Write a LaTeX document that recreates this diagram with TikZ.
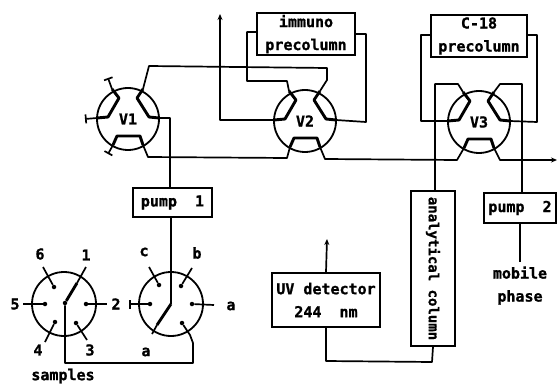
\documentclass[tikz,border=0pt]{standalone}
\usepackage{fontspec}
\setmainfont{DejaVu Sans Mono}[BoldFont={DejaVu Sans Mono Bold},BoldFeatures={FakeBold=1.2}]
\usetikzlibrary{arrows.meta}
\tikzset{
  wire/.style={line width=1.7pt,line join=round},
  thick wire/.style={line width=2.9pt,line join=round},
  boxed/.style={draw,line width=1.8pt,align=center,inner sep=0pt,font=\fontsize{15}{23}\selectfont\bfseries},
  lab/.style={inner sep=0pt,font=\fontsize{15}{23}\selectfont\bfseries,align=center},
  up tip/.style={-{Stealth[length=6pt,width=5pt]}},
  t end/.style={-{Bar[width=9pt,line width=1.7pt]}},
  dot/.style={circle,fill=black,inner sep=0pt,minimum size=4.5pt},
  ring/.style={circle,draw,line width=1.8pt,inner sep=0pt},
  valve/.pic={
    \node[ring,minimum size=62pt,lab] (-c) at (0,0) {#1};
    \coordinate (-tl) at (-16,-30);
    \coordinate (-tr) at (15,-30);
    \coordinate (-l) at (-31,-1);
    \coordinate (-r) at (31,-1);
    \coordinate (-bl) at (-15,26);
    \coordinate (-br) at (15,26);
    \draw[thick wire] (-tl) -- (-9,-21) -- (-20,-2) -- (-l);
    \draw[thick wire] (-tr) -- (9,-21) -- (21,-2) -- (-r);
    \draw[thick wire] (-bl) -- (-11,17) -- (12,17) -- (-br);
  },
  selector/.pic={
    \node[ring,minimum size=64pt] (-c) at (0,0) {};
  },
}
\begin{document}
\begin{tikzpicture}[x=1pt,y=-1pt]
\useasboundingbox (0,0) rectangle (557,385);
% valves
\pic (v1) at (128,119) {valve={V1}};
\pic (v2) at (305,121) {valve={V2}};
\pic (v3) at (479,122) {valve={V3}};
% selectors
\pic (s1) at (64,304) {selector};
\pic (s2) at (171,304) {selector};
% boxes
\node[boxed,minimum width=98pt,minimum height=42pt] (immuno) at (306,34) {immuno\\precolumn};
\node[boxed,minimum width=96pt,minimum height=42pt] (c18) at (479,36) {C-18\\precolumn};
\node[boxed,minimum width=79pt,minimum height=29pt] (pump1) at (172.5,202.5) {pump~~1};
\node[boxed,minimum width=72pt,minimum height=30pt] (pump2) at (520,208) {pump~~2};
\node[boxed,minimum width=108pt,minimum height=54pt] (uv) at (326,300) {UV~detector\\244~~nm};
\node[boxed,rotate=-90,minimum width=155pt,minimum height=44pt,font=\fontsize{14}{23}\selectfont\bfseries] (col) at (433,268.5) {analytical~column};
% free ends
\coordinate (wasteA) at (220,14);
\coordinate (uvOut) at (327,239);
\coordinate (outR) at (557,160);
\coordinate (t1) at (108,78);
\coordinate (t2) at (85,119);
\coordinate (t3) at (108,154);
\node[lab] (mobile) at (520,285.5) {mobile\\phase};
\coordinate (mobileIn) at (520,262);
% V1 stubs
\draw[wire,t end] (v1-tl) -- (t1);
\draw[wire,t end] (v1-l) -- (t2);
\draw[wire,t end] (v1-bl) -- (t3);
% connectors
\draw[wire] (v1-tr) -- (149,66) -- (327,68) -- (327,80) -- (v2-tr);
\draw[wire] (v1-r) -- (170,118) -- (170,188);
\draw[wire] (v1-br) -- (148,157) -- (287,158) -- (v2-bl);
\draw[wire,up tip] (v2-l) -- (220,120) -- (wasteA);
\draw[wire] (immuno.west |- 0,32) -- (247,32) -- (247,81) -- (287,81) -- (v2-tl);
\draw[wire] (immuno.east |- 0,34) -- (366,34) -- (366,122) -- (v2-r);
\draw[wire] (v2-br) -- (325,159) -- (457,160) -- (v3-bl);
\draw[wire,up tip] (v3-br) -- (500,160) -- (outR);
\draw[wire] (c18.west |- 0,35) -- (421,35) -- (421,121) -- (v3-l);
\draw[wire] (c18.east |- 0,35) -- (537,35) -- (537,122) -- (v3-r);
\draw[wire] (v3-tl) -- (458,84) -- (435,84) -- (435,191);
\draw[wire] (v3-tr) -- (500,84) -- (522,84) -- (522,193);
\draw[wire] (pump2.south) -- (mobileIn);
\draw[wire] (col.east) -- (432,362) -- (326,361) -- (uv.south);
\draw[wire,up tip] (uv.north) -- (uvOut);
% pump 1 to selector 2 rotor
\draw[wire] (pump1.south -| 171,0) -- (s2-c.center);
\draw[thick wire] (s2-c.center) -- (157,325);
\draw[wire] (157,325) -- (152,334);
% selector 2 ports
\node[dot] (c2) at (159,285) {};
\node[dot] (b2) at (181,286) {};
\node[dot] (w2) at (150,304) {};
\node[dot] (e2) at (192,304) {};
\node[dot] (f2) at (182,323) {};
\draw[wire] (c2) -- (149,267);
\draw[wire] (b2) -- (192,268);
\draw[wire,t end] (w2) -- (129,304);
\draw[wire] (e2) -- (214,305);
% selector 1 ports
\node[dot] (p6) at (54,287) {};
\node[dot] (p2) at (86,304) {};
\node[dot] (p5) at (45,304) {};
\node[dot] (p3) at (76,323) {};
\node[dot] (p4) at (55,322) {};
\node[dot] (hub) at (65,303) {};
\draw[wire] (p6) -- (43,267);
\draw[wire] (p2) -- (107,304);
\draw[wire] (p5) -- (23,304);
\draw[wire] (p3) -- (87,340);
\draw[wire] (p4) -- (45,342);
\draw[thick wire] (hub) -- (77,283);
\draw[wire] (77,283) -- (86,267);
% selector link
\draw[wire] (f2) -- (190,335) -- (193,343) -- (193,363) -- (65,363) -- (hub);
% labels
\node[lab] (l6) at (40,254) {6};
\node[lab] (l1) at (86,255) {1};
\node[lab] (l5) at (15,304) {5};
\node[lab] (l2) at (116,304) {2};
\node[lab] (l4) at (38,350) {4};
\node[lab] (l3) at (90,350) {3};
\node[lab] (lc) at (144,252) {c};
\node[lab] (lb) at (197,253) {b};
\node[lab] (la) at (231,306) {a};
\node[lab] (lv) at (146,352) {a};
\node[lab] (ls) at (63,376) {samples};
\end{tikzpicture}
\end{document}
